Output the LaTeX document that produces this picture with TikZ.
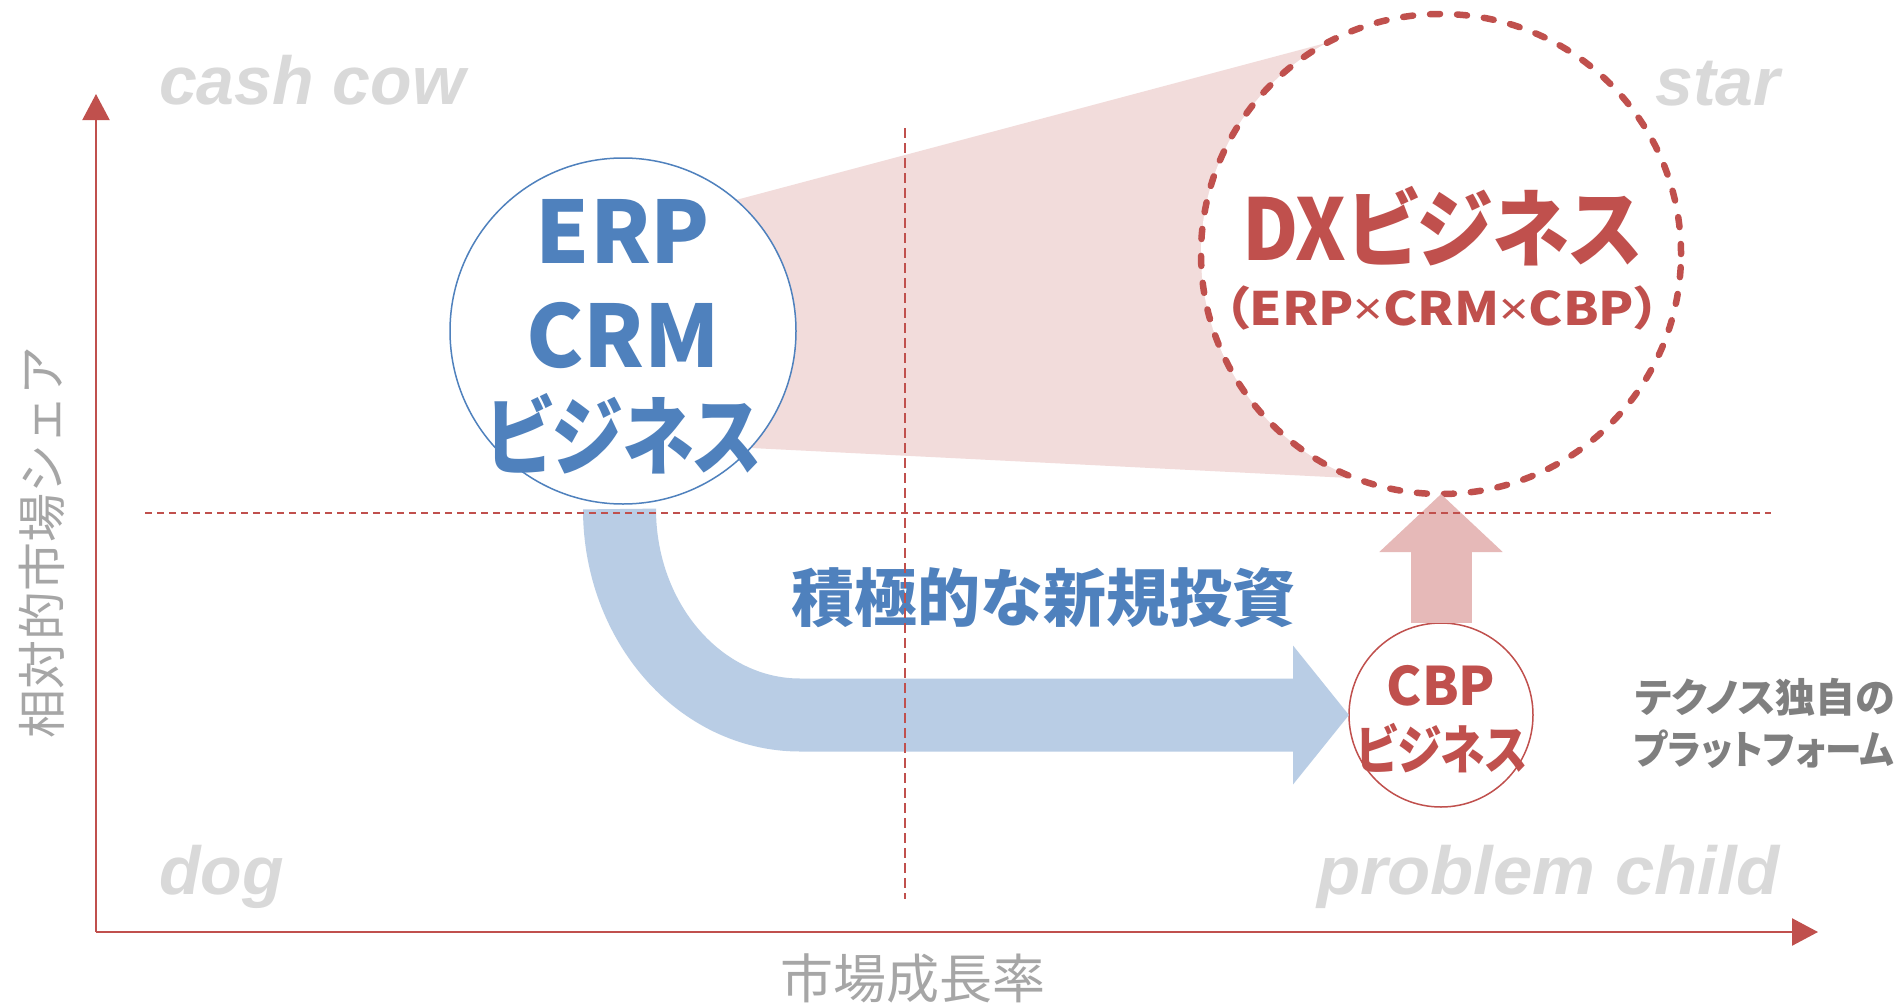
\documentclass[tikz,border=0pt]{standalone}
\usepackage{fontspec}
\usepackage{graphicx}
\usetikzlibrary{arrows.meta,calc}
\newfontfamily\jp{Noto Sans CJK JP}
\newfontfamily\jpp{Noto Sans CJK JP}[RawFeature=+palt]
\newfontfamily\lat{Liberation Sans}
\newfontfamily\nsx{Noto Sans}
\definecolor{cred}{HTML}{C0504D}
\definecolor{cblue}{HTML}{4F81BD}
\definecolor{lblue}{HTML}{B9CDE5}
\definecolor{lpink}{HTML}{F2DCDB}
\definecolor{mpink}{HTML}{E6B9B8}
\definecolor{qgray}{HTML}{D9D9D9}
\definecolor{agray}{HTML}{A6A6A6}
\definecolor{dgray}{HTML}{7F7F7F}
\newcommand{\fitw}[2]{\resizebox{#1}{\height}{#2}}
\newcommand{\tms}{{\nsx\bfseries ×}}
\tikzset{
  txt/.style={inner sep=0pt, outer sep=0pt},
  qlabel/.style={txt, text=qgray, font=\lat\bfseries\itshape\fontsize{68pt}{80pt}\selectfont},
  axlabel/.style={txt, text=agray, font=\jp\fontsize{#1}{#1}\selectfont},
  bigblue/.style={txt, anchor=base, text=cblue, font=\jpp\bfseries\fontsize{86pt}{100pt}\selectfont},
  circ/.style={circle, inner sep=0pt, outer sep=0pt, fill=white},
  dashln/.style={cred, line width=1.5pt},
  axisline/.style={cred, line width=2.5pt, -{Triangle[length=26pt,width=27pt]}},
}
\begin{document}
\begin{tikzpicture}[x=1pt,y=-1pt]
\useasboundingbox (0,0) rectangle (1901,1004);
\fill[white] (0,0) rectangle (1901,1004);

% named positions
\coordinate (origin) at (96,932);
\coordinate (ytip) at (96,94);
\coordinate (xtip) at (1818,932);
\coordinate (vtop) at (905,128);
\coordinate (vbot) at (905,899);
\coordinate (hleft) at (145,513);
\coordinate (hright) at (1771,513);

% pink projection behind the circles
\fill[lpink] (736,200) -- (1326,43) -- (1350,478) -- (751,448) -- cycle;

% circles
\node[circ, minimum size=346pt, draw=cblue, line width=1.5pt] (erp) at (623,331) {};
\node[circ, minimum size=480pt, draw=cred, line width=6.5pt, line cap=round, dash pattern=on 10pt off 17pt] (dx) at (1441,254) {};
\node[circ, minimum size=184pt, draw=cred, line width=1.5pt] (cbp) at (1441,715) {};

% blue investment arrow
\draw[lblue, line width=73pt, -{Triangle[length=56pt,width=136pt]}]
  ($(erp.south)+(-3.5,5)$) arc[start angle=180, end angle=90, x radius=180.5, y radius=206] -- (cbp.west);

% pink upward arrow
\draw[mpink, line width=61pt, -{Triangle[length=58pt,width=120pt]}] (cbp.north) -- (dx.south);

% quadrant labels
\node[qlabel, anchor=base west] (cashcow) at (159,104) {cash cow};
\node[qlabel, anchor=base east] (star) at (1780,105) {star};
\node[qlabel, anchor=base west] (dog) at (159,894) {dog};
\node[qlabel, anchor=base east] (problem) at (1780,894) {\fitw{463pt}{problem child}};

% ERP circle text
\node[bigblue] (erp1) at (623,263) {ERP};
\node[bigblue] (erp2) at (623,367) {CRM};
\node[bigblue] (erp3) at (624,468) {\fitw{276pt}{ビジネス}};

% DX circle text
\node[txt, anchor=base, text=cred, font=\jpp\bfseries\fontsize{85pt}{100pt}\selectfont] (dx1) at (1442,260) {\fitw{400pt}{DXビジネス}};
\node[txt, anchor=base, text=cred, font=\jpp\bfseries\fontsize{46pt}{50pt}\selectfont] (dx2) at (1442,325) {\fitw{436pt}{（ERP\tms CRM\tms CBP）}};

% CBP circle text
\node[txt, anchor=base, text=cred, font=\jpp\bfseries\fontsize{53pt}{60pt}\selectfont] (cbp1) at (1441,705) {CBP};
\node[txt, anchor=base, text=cred, font=\jpp\bfseries\fontsize{53pt}{60pt}\selectfont] (cbp2) at (1442,769) {\fitw{171pt}{ビジネス}};

% investment label
\node[txt, anchor=base, text=cblue, font=\jp\bfseries\fontsize{63pt}{70pt}\selectfont] (invest) at (1043,621) {積極的な新規投資};

% note
\node[txt, anchor=base, text=dgray, font=\jpp\bfseries\fontsize{40pt}{46pt}\selectfont] (note1) at (1765,712) {テクノス独自の};
\node[txt, anchor=base, text=dgray, font=\jpp\bfseries\fontsize{40pt}{46pt}\selectfont] (note2) at (1764,764) {\fitw{260pt}{プラットフォーム}};

% axis labels
\node[axlabel=53pt, anchor=base] (xlab) at (913,998) {市場成長率};
\node[axlabel=49pt, anchor=base, rotate=90] (ylab) at (60,542) {相対的市場シェア};

% dashed quadrant dividers
\draw[dashln, dash pattern=on 10pt off 5pt] (vtop) -- (vbot);
\draw[dashln, dash pattern=on 7pt off 5pt] (hleft) -- (hright);

% axes
\draw[axisline, line width=2pt] (origin) -- (ytip);
\draw[axisline] (origin) -- (xtip);
\end{tikzpicture}
\end{document}
